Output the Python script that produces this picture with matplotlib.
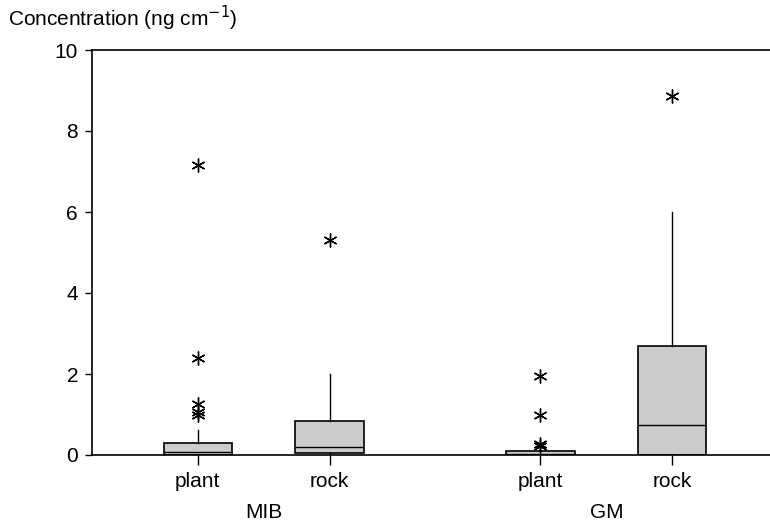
import matplotlib.pyplot as plt

plt.rcParams["font.family"] = ["Liberation Sans", "DejaVu Sans"]

# values
groups = ["MIB", "GM"]
tick_labels = ["plant", "rock", "plant", "rock"]
positions = [1.0, 2.0, 3.6, 4.6]
q1 = [0.0, 0.05, 0.0, 0.0]
medians = [0.07, 0.2, 0.03, 0.75]
q3 = [0.3, 0.85, 0.1, 2.7]
whis_low = [0.0, 0.0, 0.0, 0.0]
whis_high = [0.62, 2.0, 0.1, 6.0]
fliers = [
    [7.15, 2.4, 1.27, 1.07, 0.99],
    [5.3],
    [1.96, 0.98, 0.27, 0.22],
    [8.86],
]

stats = []
for i in range(len(tick_labels)):
    stats.append(
        {
            "med": medians[i],
            "q1": q1[i],
            "q3": q3[i],
            "whislo": whis_low[i],
            "whishi": whis_high[i],
            "fliers": fliers[i],
        }
    )

fig = plt.figure(figsize=(7.7, 5.24), dpi=100)
ax = fig.add_axes([92 / 770, 1 - 455 / 524, 1 - 92 / 770, 405 / 524])

ax.bxp(
    stats,
    positions=positions,
    widths=0.52,
    patch_artist=True,
    showcaps=False,
    boxprops=dict(facecolor="#cccccc", edgecolor="black", linewidth=1.2),
    medianprops=dict(color="black", linewidth=1.0),
    whiskerprops=dict(color="black", linewidth=1.0),
    flierprops=dict(marker=(6, 2, 0), markersize=10, markeredgecolor="black",
                    markeredgewidth=1.0, linestyle="none"),
)

ax.set_xlim(0.197, 5.342)
ax.set_ylim(0, 10)
ax.set_yticks([0, 2, 4, 6, 8, 10])
ax.set_xticks(positions)
ax.set_xticklabels(tick_labels)
ax.tick_params(axis="both", labelsize=15, color="black", width=1.0)
ax.tick_params(axis="x", length=7, pad=5)
ax.tick_params(axis="y", length=5, pad=5)
ax.spines["right"].set_visible(False)
for s in ["left", "bottom", "top"]:
    ax.spines[s].set_linewidth(1.2)

# group labels under the tick labels
ax.text((positions[0] + positions[1]) / 2, -1.43, groups[0], ha="center",
        va="center", fontsize=15, transform=ax.transData, clip_on=False)
ax.text((positions[2] + positions[3]) / 2, -1.43, groups[1], ha="center",
        va="center", fontsize=15, transform=ax.transData, clip_on=False)

fig.text(8 / 770, 1 - 18 / 524, "Concentration (ng cm$^{-1}$)", fontsize=15,
         ha="left", va="center")

fig.savefig("out.png", dpi=100)
